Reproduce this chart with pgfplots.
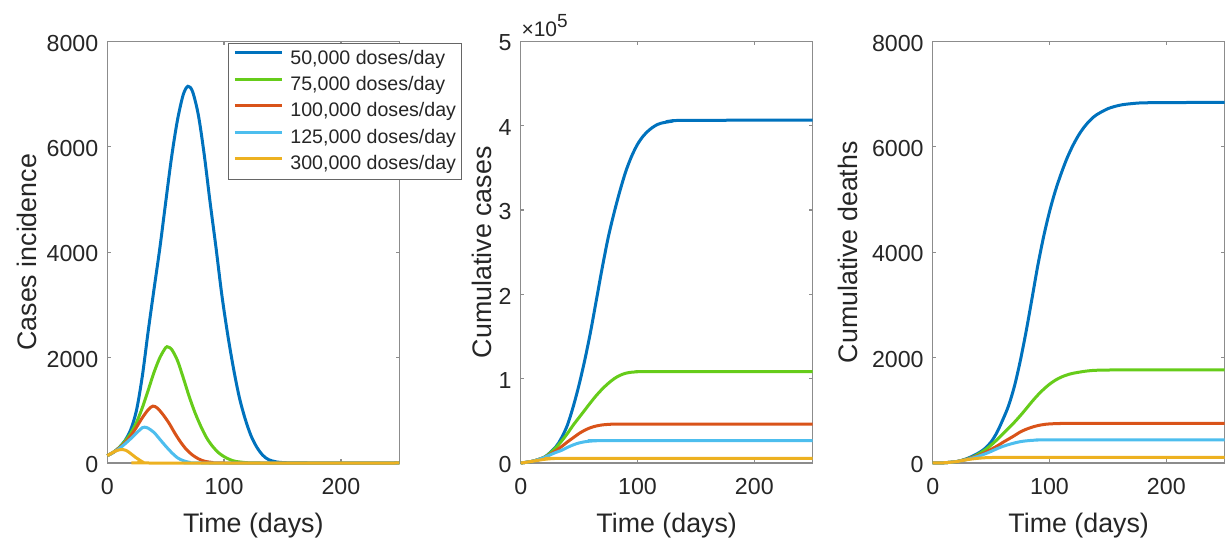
\documentclass[border=0pt]{standalone}
\usepackage{pgfplots}
\pgfplotsset{compat=1.18}
\usepackage{pgfplotstable}
\usepackage{fontspec}
\setmainfont{Liberation Sans}
\definecolor{c1}{RGB}{0,114,189}
\definecolor{c2}{RGB}{102,204,26}
\definecolor{c3}{RGB}{217,83,25}
\definecolor{c4}{RGB}{77,190,238}
\definecolor{c5}{RGB}{237,177,32}
\definecolor{txt}{gray}{0.15}
\definecolor{axc}{gray}{0.55}

% ---------- incidence ----------
\pgfplotstableread{
t v
0 140
5 200
10 290
15 420
20 630
25 1000
30 1650
35 2500
40 3300
45 4080
50 4950
55 5800
60 6500
65 6990
69 7150
73 7050
78 6600
83 5850
88 4950
93 4100
98 3200
103 2450
108 1800
113 1250
118 840
123 520
128 300
133 150
138 65
145 20
155 3
170 0
250 0
}\incA
\pgfplotstableread{
t v
0 140
5 200
10 290
15 410
20 560
25 770
30 1050
35 1380
40 1720
45 2000
50 2190
52 2200
55 2160
60 1950
65 1620
70 1270
75 960
80 700
85 480
90 320
95 200
100 120
105 65
110 30
120 5
130 0
250 0
}\incB
\pgfplotstableread{
t v
0 140
5 200
10 280
15 380
20 510
25 680
30 860
35 1010
39 1080
43 1040
48 910
53 750
58 560
63 390
68 250
73 150
78 80
83 35
90 10
100 0
250 0
}\incC
\pgfplotstableread{
t v
0 140
5 200
10 270
15 360
20 460
25 570
30 670
32 680
35 660
40 580
45 450
50 320
55 200
60 100
65 45
70 15
80 0
250 0
}\incD
\pgfplotstableread{
t v
0 140
4 190
8 235
12 255
16 240
20 180
24 110
28 50
31 10
35 0
250 0
}\incE

% ---------- cumulative cases ----------
\pgfplotstableread{
t v
0 0
10 2000
20 6500
30 19000
35 30000
40 45000
45 67000
50 93000
55 123000
60 157000
65 195000
70 233000
75 268000
80 297000
85 323000
90 346000
95 364000
100 378000
105 388000
110 395000
115 400000
120 403000
130 405500
140 406400
250 406800
}\casA
\pgfplotstableread{
t v
0 0
10 2000
20 6800
25 11500
30 18000
35 26000
40 35000
45 45000
50 54000
55 63000
60 72000
65 80500
70 88000
75 94500
80 100000
85 104000
90 106500
95 107700
100 108100
110 108300
250 108400
}\casB
\pgfplotstableread{
t v
0 0
10 2000
20 6500
25 10000
30 14500
35 19500
40 25000
45 30000
50 35000
55 39000
60 42000
65 44000
70 45200
75 45800
80 46100
90 46200
250 46250
}\casC
\pgfplotstableread{
t v
0 0
10 2000
20 6500
25 9500
30 12500
35 15000
40 18500
45 21500
50 23800
55 25200
60 26000
65 26400
70 26500
250 26550
}\casD
\pgfplotstableread{
t v
0 0
5 900
10 2000
15 3200
20 4300
25 5000
30 5400
35 5500
250 5500
}\casE

% ---------- cumulative deaths ----------
\pgfplotstableread{
t v
0 0
10 5
20 25
25 50
30 90
35 140
40 200
45 280
50 400
55 580
60 820
65 1090
70 1460
75 1940
80 2500
85 3120
90 3750
95 4300
100 4770
105 5165
110 5495
115 5785
120 6025
125 6225
130 6385
135 6510
140 6605
150 6725
160 6790
170 6820
185 6838
250 6845
}\deaA
\pgfplotstableread{
t v
0 0
10 5
20 25
30 80
35 120
40 180
45 250
50 340
55 440
60 550
65 660
70 775
75 898
80 1030
85 1165
90 1290
95 1400
100 1495
105 1572
110 1630
115 1672
120 1702
130 1740
140 1760
160 1766
250 1768
}\deaB
\pgfplotstableread{
t v
0 0
10 5
20 25
30 75
35 110
40 150
45 200
50 260
55 320
60 390
65 455
70 520
75 590
80 640
85 680
90 710
95 730
100 742
110 750
120 753
250 754
}\deaC
\pgfplotstableread{
t v
0 0
10 5
20 25
30 70
35 100
40 135
45 175
50 220
55 270
60 315
65 350
70 380
75 405
80 420
85 430
90 435
100 437
250 438
}\deaD
\pgfplotstableread{
t v
0 0
10 5
20 25
25 45
30 65
35 80
40 92
45 100
50 104
60 107
70 108
250 108
}\deaE

\pgfplotsset{myax/.style={
  scale only axis, width=146pt, height=210.75pt,
  xmin=0, xmax=250, xtick={0,100,200},
  axis line style={axc, line width=0.6pt},
  major tick style={axc, line width=0.6pt},
  major tick length=1.8pt,
  tick align=inside,
  ticklabel style={font=\fontsize{11.6}{13}\selectfont, text=txt},
  xticklabel style={yshift=-4.3pt},
  yticklabel style={xshift=-1pt, yshift=-0.8pt},
  label style={font=\fontsize{13.4}{15}\selectfont, text=txt},
  /pgf/number format/assume math mode=true,
  /pgf/number format/1000 sep={},
  xlabel={Time (days)},
  xlabel style={at={(axis description cs:0.5,0)}, anchor=center, yshift=-31.5pt},
  every axis plot/.append style={line width=1.5pt, smooth, tension=0.5},
  clip=false,
}}

\begin{document}
\begin{tikzpicture}
\begin{axis}[myax, at={(53.65pt,41.5pt)}, anchor=south west,
  ymin=0, ymax=8000, ytick={0,2000,4000,6000,8000},
  ylabel={Cases incidence},
  ylabel style={at={(axis description cs:-0.274,0.5)}, anchor=center},
  legend style={at={(rel axis cs:0.413,0.996)}, anchor=north west,
    draw=black!60, line width=0.5pt, fill=white,
    font=\fontsize{9.8}{11}\selectfont, text=txt,
    inner xsep=2.5pt, inner ysep=3pt, row sep=4pt,
    nodes={inner sep=0pt, text height=7.2pt, text depth=2pt},
    /tikz/every odd column/.style={column sep=3.5pt}},
  legend cell align=left,
  legend image code/.code={\draw[#1, line width=1.5pt] (0pt,0.3em) -- (23.5pt,0.3em);},
]
\addplot[c1] table[x=t,y=v] {\incA};
\addplot[c2] table[x=t,y=v] {\incB};
\addplot[c3] table[x=t,y=v] {\incC};
\addplot[c4] table[x=t,y=v] {\incD};
\addplot[c5] table[x=t,y=v] {\incE};
\legend{{50,000 doses/day}, {75,000 doses/day}, {100,000 doses/day}, {125,000 doses/day}, {300,000 doses/day}}
\end{axis}

\begin{axis}[myax, at={(260.35pt,41.5pt)}, anchor=south west,
  ymin=0, ymax=500000, ytick={0,100000,200000,300000,400000,500000},
  scaled y ticks=base 10:-5,
  ytick scale label code/.code={×10\raisebox{4.6pt}{\fontsize{9.5}{10}\selectfont 5}},
  every y tick scale label/.style={at={(rel axis cs:0,1)}, anchor=base west, xshift=1.2pt, yshift=3.3pt, inner sep=0pt, font=\fontsize{10.5}{12}\selectfont, text=txt},
  ylabel={Cumulative cases},
  ylabel style={at={(axis description cs:-0.133,0.5)}, anchor=center},
]
\addplot[c1] table[x=t,y=v] {\casA};
\addplot[c2] table[x=t,y=v] {\casB};
\addplot[c3] table[x=t,y=v] {\casC};
\addplot[c4] table[x=t,y=v] {\casD};
\addplot[c5] table[x=t,y=v] {\casE};
\end{axis}

\begin{axis}[myax, at={(466.35pt,41.5pt)}, anchor=south west,
  ymin=0, ymax=8000, ytick={0,2000,4000,6000,8000},
  ylabel={Cumulative deaths},
  ylabel style={at={(axis description cs:-0.29,0.5)}, anchor=center},
]
\addplot[c1] table[x=t,y=v] {\deaA};
\addplot[c2] table[x=t,y=v] {\deaB};
\addplot[c3] table[x=t,y=v] {\deaC};
\addplot[c4] table[x=t,y=v] {\deaD};
\addplot[c5] table[x=t,y=v] {\deaE};
\end{axis}
\pgfresetboundingbox
\path[use as bounding box] (0,0) rectangle (616pt,273pt);
\end{tikzpicture}
\end{document}
